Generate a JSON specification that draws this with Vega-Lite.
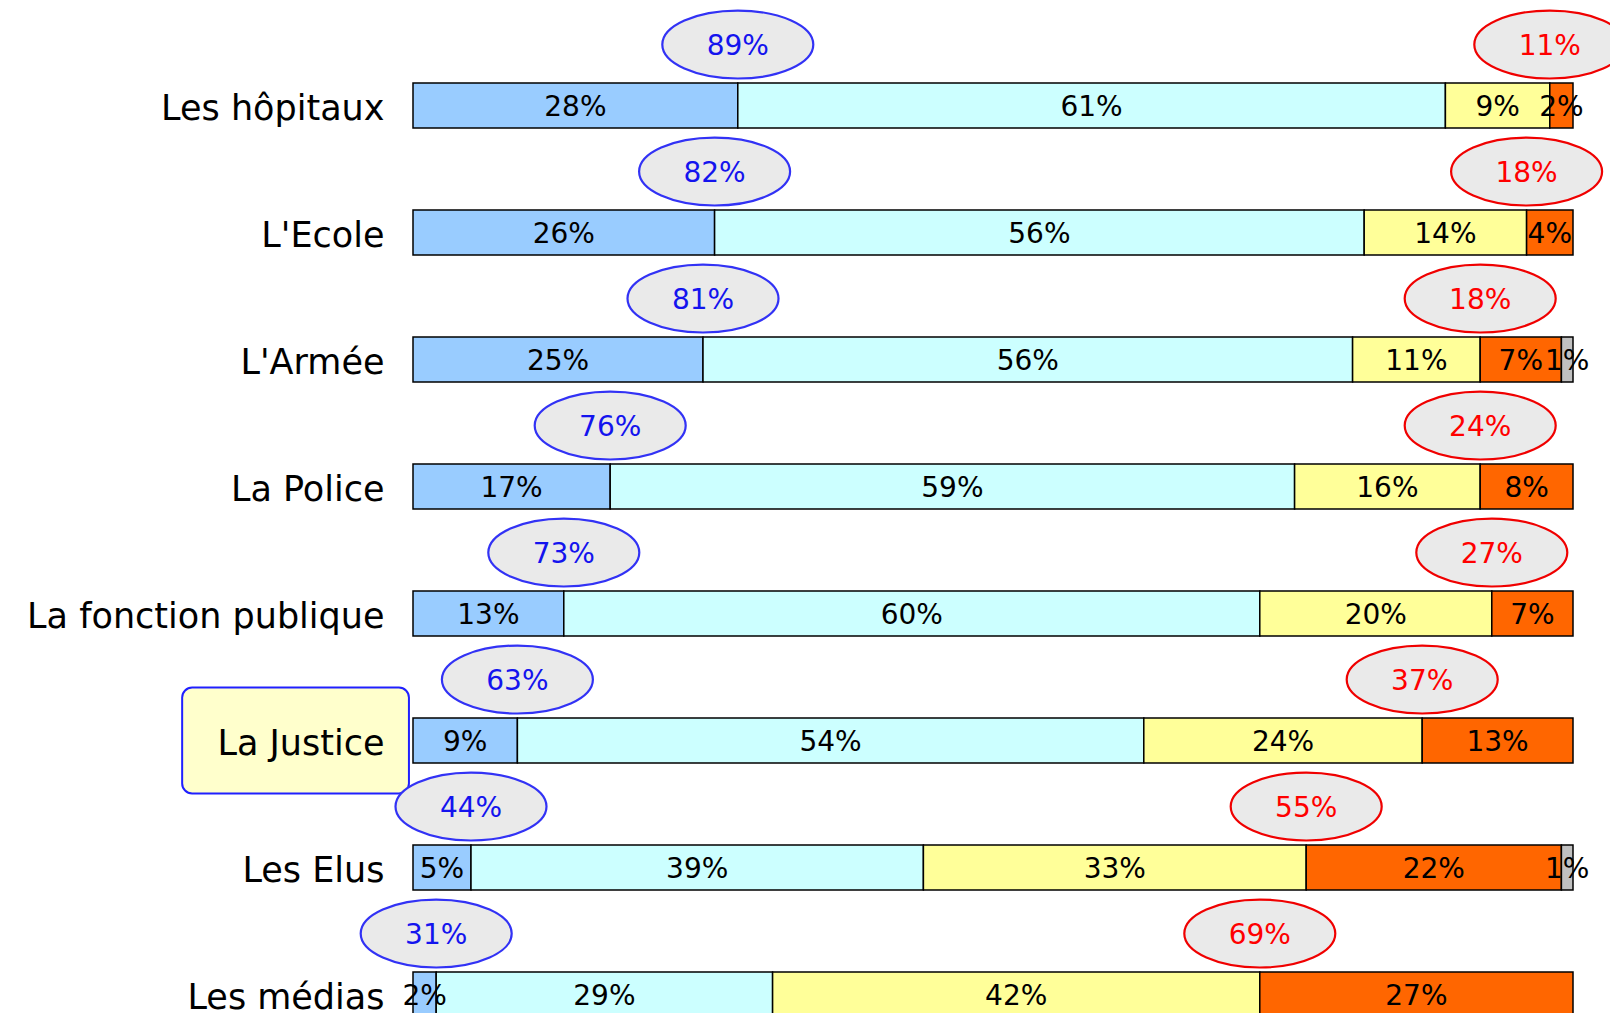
{
  "$schema": "https://vega.github.io/schema/vega-lite/v6.json",
  "autosize": {"type": "none"},
  "padding": {"left": 413, "top": 42, "right": 37, "bottom": 0},
  "width": 1160,
  "height": 971,
  "background": "white",
  "config": {"view": {"stroke": null}, "font": "DejaVu Sans"},
  "data": {
    "values": [
      {"cat": "Les hôpitaux", "seg": "Très bonne", "rank": 1, "value": 0.28, "total": 0.89},
      {"cat": "Les hôpitaux", "seg": "Assez bonne", "rank": 2, "value": 0.61},
      {"cat": "Les hôpitaux", "seg": "Assez mauvaise", "rank": 3, "value": 0.09},
      {"cat": "Les hôpitaux", "seg": "Très mauvaise", "rank": 4, "value": 0.02, "total": 0.11},
      {"cat": "L'Ecole", "seg": "Très bonne", "rank": 1, "value": 0.26, "total": 0.82},
      {"cat": "L'Ecole", "seg": "Assez bonne", "rank": 2, "value": 0.56},
      {"cat": "L'Ecole", "seg": "Assez mauvaise", "rank": 3, "value": 0.14},
      {"cat": "L'Ecole", "seg": "Très mauvaise", "rank": 4, "value": 0.04, "total": 0.18},
      {"cat": "L'Armée", "seg": "Très bonne", "rank": 1, "value": 0.25, "total": 0.81},
      {"cat": "L'Armée", "seg": "Assez bonne", "rank": 2, "value": 0.56},
      {"cat": "L'Armée", "seg": "Assez mauvaise", "rank": 3, "value": 0.11},
      {"cat": "L'Armée", "seg": "Très mauvaise", "rank": 4, "value": 0.07, "total": 0.18},
      {"cat": "L'Armée", "seg": "NSP", "rank": 5, "value": 0.01},
      {"cat": "La Police", "seg": "Très bonne", "rank": 1, "value": 0.17, "total": 0.76},
      {"cat": "La Police", "seg": "Assez bonne", "rank": 2, "value": 0.59},
      {"cat": "La Police", "seg": "Assez mauvaise", "rank": 3, "value": 0.16},
      {"cat": "La Police", "seg": "Très mauvaise", "rank": 4, "value": 0.08, "total": 0.24},
      {"cat": "La fonction publique", "seg": "Très bonne", "rank": 1, "value": 0.13, "total": 0.73},
      {"cat": "La fonction publique", "seg": "Assez bonne", "rank": 2, "value": 0.60},
      {"cat": "La fonction publique", "seg": "Assez mauvaise", "rank": 3, "value": 0.20},
      {"cat": "La fonction publique", "seg": "Très mauvaise", "rank": 4, "value": 0.07, "total": 0.27},
      {"cat": "La Justice", "seg": "Très bonne", "rank": 1, "value": 0.09, "total": 0.63},
      {"cat": "La Justice", "seg": "Assez bonne", "rank": 2, "value": 0.54},
      {"cat": "La Justice", "seg": "Assez mauvaise", "rank": 3, "value": 0.24},
      {"cat": "La Justice", "seg": "Très mauvaise", "rank": 4, "value": 0.13, "total": 0.37},
      {"cat": "Les Elus", "seg": "Très bonne", "rank": 1, "value": 0.05, "total": 0.44},
      {"cat": "Les Elus", "seg": "Assez bonne", "rank": 2, "value": 0.39},
      {"cat": "Les Elus", "seg": "Assez mauvaise", "rank": 3, "value": 0.33},
      {"cat": "Les Elus", "seg": "Très mauvaise", "rank": 4, "value": 0.22, "total": 0.55},
      {"cat": "Les Elus", "seg": "NSP", "rank": 5, "value": 0.01},
      {"cat": "Les médias", "seg": "Très bonne", "rank": 1, "value": 0.02, "total": 0.31},
      {"cat": "Les médias", "seg": "Assez bonne", "rank": 2, "value": 0.29},
      {"cat": "Les médias", "seg": "Assez mauvaise", "rank": 3, "value": 0.42},
      {"cat": "Les médias", "seg": "Très mauvaise", "rank": 4, "value": 0.27, "total": 0.69}
    ]
  },
  "layer": [
    {
      "transform": [{"filter": "datum.cat == 'La Justice' && datum.rank == 1"}],
      "mark": {"type": "bar", "size": 106, "cornerRadius": 10, "fill": "#FFFFCC", "stroke": "#2020FF", "strokeWidth": 2},
      "encoding": {
        "y": {
          "field": "cat",
          "type": "nominal",
          "sort": ["Les hôpitaux", "L'Ecole", "L'Armée", "La Police", "La fonction publique", "La Justice", "Les Elus", "Les médias"],
          "scale": {"range": [0, 1016], "paddingInner": 0, "paddingOuter": 0},
          "axis": {"title": null, "domain": false, "ticks": false, "labelFontSize": 35, "labelFont": "DejaVu Sans", "labelColor": "black", "labelPadding": 29, "labelLimit": 0, "labelOffset": 3, "zindex": 1}
        },
        "x": {"datum": -0.199, "type": "quantitative", "axis": null, "scale": {"domain": [0, 1], "nice": false, "zero": false}},
        "x2": {"datum": -0.0035}
      }
    },
    {
      "mark": {"type": "bar", "size": 45, "stroke": "black", "strokeWidth": 1.5},
      "encoding": {
        "y": {"field": "cat", "type": "nominal", "sort": ["Les hôpitaux", "L'Ecole", "L'Armée", "La Police", "La fonction publique", "La Justice", "Les Elus", "Les médias"]},
        "x": {"field": "value", "type": "quantitative", "stack": "zero"},
        "order": {"field": "rank", "type": "quantitative"},
        "color": {
          "field": "seg",
          "type": "nominal",
          "legend": null,
          "scale": {
            "domain": ["Très bonne", "Assez bonne", "Assez mauvaise", "Très mauvaise", "NSP"],
            "range": ["#99CCFF", "#CCFFFF", "#FFFF99", "#FF6600", "#C0C0C0"]
          }
        }
      }
    },
    {
      "mark": {"type": "text", "fontSize": 28, "color": "black", "baseline": "middle", "align": "center", "dy": 2},
      "encoding": {
        "y": {"field": "cat", "type": "nominal", "sort": ["Les hôpitaux", "L'Ecole", "L'Armée", "La Police", "La fonction publique", "La Justice", "Les Elus", "Les médias"]},
        "x": {"field": "value", "type": "quantitative", "stack": "zero", "bandPosition": 0.5},
        "detail": {"field": "seg", "type": "nominal"},
        "order": {"field": "rank", "type": "quantitative"},
        "text": {"field": "value", "type": "quantitative", "format": ".0%"}
      }
    },
    {
      "transform": [{"filter": "datum.rank == 1"}],
      "mark": {"type": "point", "shape": "M -1 0 A 1 0.45 0 1 1 1 0 A 1 0.45 0 1 1 -1 0 Z", "size": 22800, "filled": true, "fill": "#EAEAEA", "stroke": "#3232F5", "strokeWidth": 2.2, "opacity": 1},
      "encoding": {
        "x": {"field": "value", "type": "quantitative"},
        "y": {"field": "cat", "type": "nominal", "bandPosition": 0.02, "sort": ["Les hôpitaux", "L'Ecole", "L'Armée", "La Police", "La fonction publique", "La Justice", "Les Elus", "Les médias"]}
      }
    },
    {
      "transform": [{"filter": "datum.rank == 1"}],
      "mark": {"type": "text", "fontSize": 28, "color": "#1414EE", "baseline": "middle", "align": "center", "dy": 2},
      "encoding": {
        "x": {"field": "value", "type": "quantitative"},
        "y": {"field": "cat", "type": "nominal", "bandPosition": 0.02, "sort": ["Les hôpitaux", "L'Ecole", "L'Armée", "La Police", "La fonction publique", "La Justice", "Les Elus", "Les médias"]},
        "text": {"field": "total", "type": "quantitative", "format": ".0%"}
      }
    },
    {
      "mark": {"type": "point", "shape": "M -1 0 A 1 0.45 0 1 1 1 0 A 1 0.45 0 1 1 -1 0 Z", "size": 22800, "filled": true, "fill": "#EAEAEA", "stroke": "#F00000", "strokeWidth": 2.2},
      "encoding": {
        "x": {"field": "value", "type": "quantitative", "stack": "zero", "bandPosition": 0},
        "y": {"field": "cat", "type": "nominal", "bandPosition": 0.02, "sort": ["Les hôpitaux", "L'Ecole", "L'Armée", "La Police", "La fonction publique", "La Justice", "Les Elus", "Les médias"]},
        "detail": {"field": "seg", "type": "nominal"},
        "order": {"field": "rank", "type": "quantitative"},
        "opacity": {"condition": {"test": "datum.rank == 4", "value": 1}, "value": 0}
      }
    },
    {
      "mark": {"type": "text", "fontSize": 28, "color": "#FF0000", "baseline": "middle", "align": "center", "dy": 2},
      "encoding": {
        "x": {"field": "value", "type": "quantitative", "stack": "zero", "bandPosition": 0},
        "y": {"field": "cat", "type": "nominal", "bandPosition": 0.02, "sort": ["Les hôpitaux", "L'Ecole", "L'Armée", "La Police", "La fonction publique", "La Justice", "Les Elus", "Les médias"]},
        "detail": {"field": "seg", "type": "nominal"},
        "order": {"field": "rank", "type": "quantitative"},
        "text": {"condition": {"test": "datum.rank == 4", "field": "total", "type": "quantitative", "format": ".0%"}, "value": ""}
      }
    }
  ]
}
